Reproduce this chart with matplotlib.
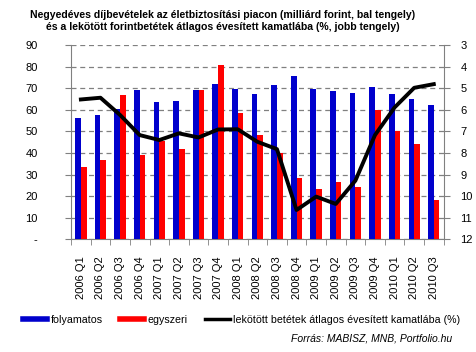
import numpy as np
import matplotlib
matplotlib.use("Agg")
import matplotlib.pyplot as plt
from matplotlib.lines import Line2D

plt.rcParams['font.family'] = ['Liberation Sans', 'DejaVu Sans']

# data
quarters = ['2006 Q1', '2006 Q2', '2006 Q3', '2006 Q4', '2007 Q1', '2007 Q2', '2007 Q3',
            '2007 Q4', '2008 Q1', '2008 Q2', '2008 Q3', '2008 Q4', '2009 Q1', '2009 Q2',
            '2009 Q3', '2009 Q4', '2010 Q1', '2010 Q2', '2010 Q3']
folyamatos = [56.3, 57.7, 60.3, 69.3, 63.7, 64.2, 69.3, 72.1, 69.8, 67.5, 71.6, 75.8,
              69.8, 68.8, 67.9, 70.7, 67.5, 65.1, 62.3]
egyszeri = [33.6, 36.7, 66.8, 39.0, 45.5, 42.0, 69.3, 80.9, 58.7, 48.3, 40.0, 28.5,
            23.3, 26.7, 24.4, 60.0, 50.3, 44.3, 18.3]
kamat = [5.52, 5.44, 6.24, 7.17, 7.40, 7.09, 7.28, 6.91, 6.90, 7.48, 7.82, 10.64,
         10.02, 10.36, 9.28, 7.17, 5.89, 4.98, 4.81]

left_ticks = [0, 10, 20, 30, 40, 50, 60, 70, 80, 90]
left_labels = ['-', '10', '20', '30', '40', '50', '60', '70', '80', '90']
right_ticks = [3, 4, 5, 6, 7, 8, 9, 10, 11, 12]

fig = plt.figure(figsize=(4.77, 3.52), dpi=100)
ax = fig.add_axes([0.149, 0.320, 0.781, 0.552])

x = np.arange(len(quarters))
w = 0.29
ax.bar(x - w / 2, folyamatos, w, color='#0000CC', zorder=3)
ax.bar(x + w / 2, egyszeri, w, color='#FF0000', zorder=3)

ax.set_xlim(-0.5, len(quarters) - 0.5)
ax.set_ylim(0, 90)
ax.set_yticks(left_ticks)
ax.set_yticklabels(left_labels)
ax.yaxis.grid(True, linestyle=(0, (4, 3)), color='#808080', linewidth=0.9, zorder=0)
ax.set_axisbelow(True)

ax.set_xticks(x)
ax.set_xticklabels(quarters, rotation=90)
ax.set_xticks(np.arange(-0.5, len(quarters)), minor=True)
ax.tick_params(axis='x', which='major', length=0, pad=12, labelsize=8)
ax.tick_params(axis='x', which='minor', length=4, color='#808080')
ax.tick_params(axis='y', length=4, color='#808080', labelsize=8, pad=20)

for s in ['top', 'right']:
    ax.spines[s].set_visible(False)
for s in ['left', 'bottom']:
    ax.spines[s].set_color('#808080')

ax2 = ax.twinx()
ax2.plot(x, kamat, color='black', linewidth=2.8, zorder=4)
ax2.set_ylim(12, 3)
ax2.set_yticks(right_ticks)
ax2.tick_params(axis='y', length=4, color='#808080', labelsize=8, pad=8)
for s in ['top', 'left', 'bottom']:
    ax2.spines[s].set_visible(False)
ax2.spines['right'].set_color('#808080')

fig.text(0.467, 0.972, 'Negyedéves díjbevételek az életbiztosítási piacon (milliárd forint, bal tengely)\n'
         'és a lekötött forintbetétek átlagos évesített kamatlába (%, jobb tengely)',
         ha='center', va='top', fontsize=7.6, fontweight='bold', linespacing=1.25)

handles = [Line2D([0], [0], color='#0000CC', linewidth=4),
           Line2D([0], [0], color='#FF0000', linewidth=4),
           Line2D([0], [0], color='black', linewidth=2.5)]
labels = ['folyamatos', 'egyszeri', 'lekötött betétek átlagos évesített kamatlába (%)']
fig.legend(handles, labels, loc='center', bbox_to_anchor=(0.506, 0.092), ncol=3,
           frameon=False, fontsize=7.7, handlelength=2.3, handletextpad=0.3,
           columnspacing=1.6, borderpad=0)

fig.text(0.948, 0.025, 'Forrás: MABISZ, MNB, Portfolio.hu', ha='right', va='bottom',
         fontsize=7.5, style='italic')

fig.savefig('out.png', dpi=100)
